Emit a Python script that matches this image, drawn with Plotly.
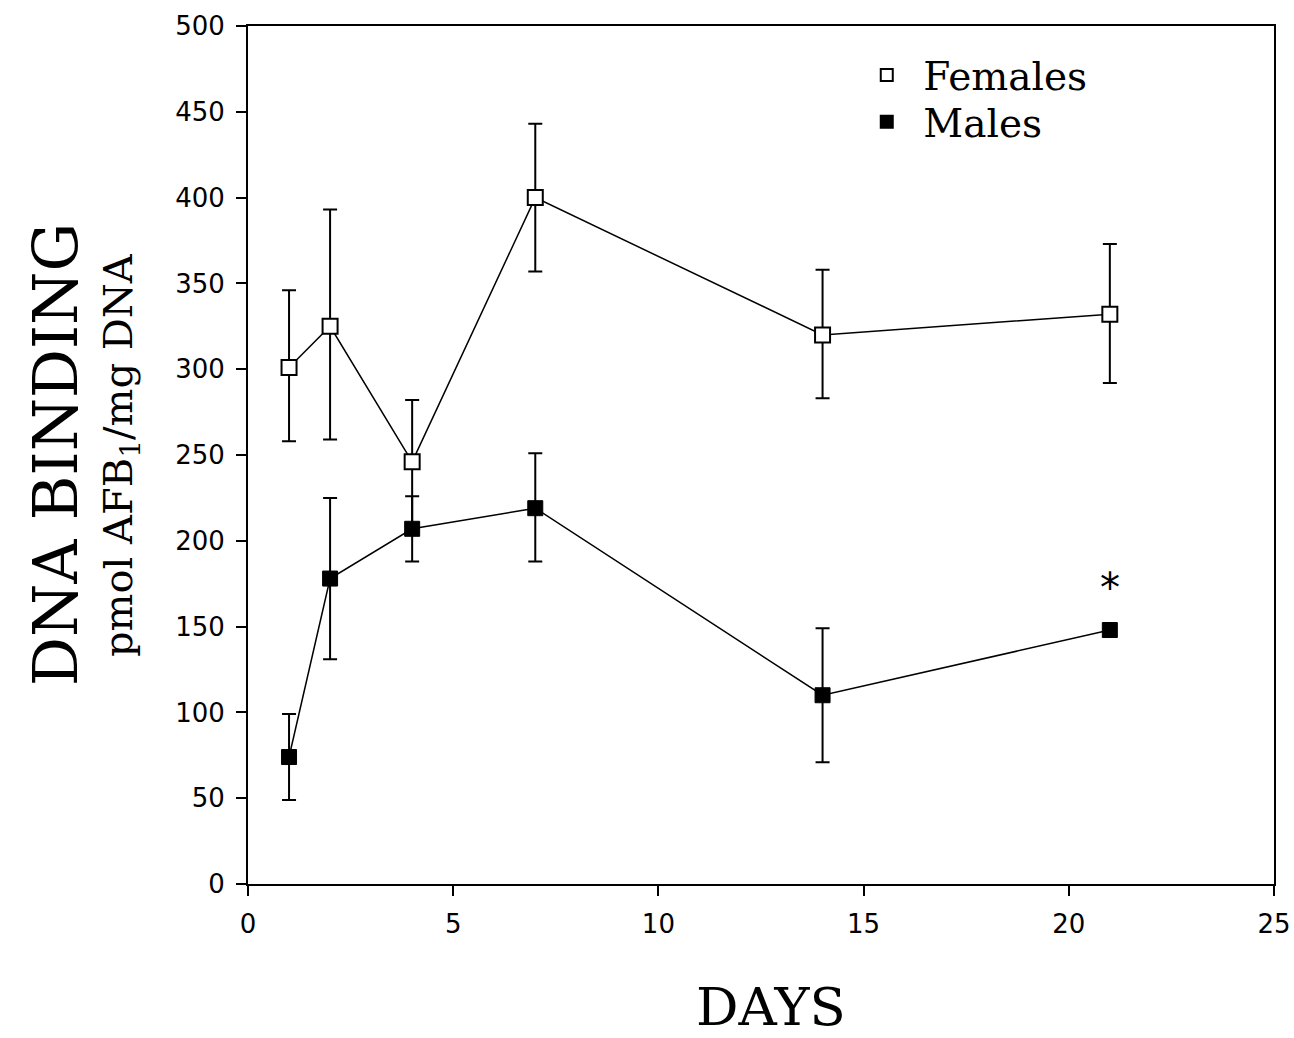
import plotly.graph_objects as go

days = [1, 2, 4, 7, 14, 21]
females = [301, 325, 246, 400, 320, 332]
females_up = [346, 393, 282, 443, 358, 373]
females_down = [258, 259, 210, 357, 283, 292]
males = [74, 178, 207, 219, 110, 148]
males_up = [99, 225, 226, 251, 149, 148]
males_down = [49, 131, 188, 188, 71, 148]
star_day = 21
star_y = 158

def plus(v, u):
    return [a - b for a, b in zip(u, v)]

def minus(v, d):
    return [b - a for a, b in zip(d, v)]

fig = go.Figure()
fig.add_trace(go.Scatter(
    x=days, y=females, mode="lines+markers", showlegend=False,
    line=dict(color="black", width=1.5),
    marker=dict(symbol="square", size=15, color="white", line=dict(color="black", width=2)),
    error_y=dict(type="data", symmetric=False, array=plus(females, females_up),
                 arrayminus=minus(females, females_down), color="black", thickness=2, width=7),
))
fig.add_trace(go.Scatter(
    x=days, y=males, mode="lines+markers", showlegend=False,
    line=dict(color="black", width=1.5),
    marker=dict(symbol="square", size=15, color="black", line=dict(color="black", width=1)),
    error_y=dict(type="data", symmetric=False, array=plus(males, males_up),
                 arrayminus=minus(males, males_down), color="black", thickness=2, width=7),
))
fig.add_trace(go.Scatter(
    x=[None], y=[None], mode="markers", name="Females", legend="legend",
    marker=dict(symbol="square", size=13, color="white", line=dict(color="black", width=2)),
))
fig.add_trace(go.Scatter(
    x=[None], y=[None], mode="markers", name="Males", legend="legend2",
    marker=dict(symbol="square", size=13, color="black", line=dict(color="black", width=1)),
))

fig.add_annotation(x=star_day, y=star_y, text="*", showarrow=False,
                   font=dict(family="DejaVu Sans", size=40, color="black"), yanchor="bottom")

fig.add_annotation(xref="paper", yref="paper", x=0, y=0.5, xshift=-193, text="DNA BINDING",
                   textangle=-90, showarrow=False, xanchor="center", yanchor="middle",
                   font=dict(family="DejaVu Serif", size=61, color="black"))
fig.add_annotation(xref="paper", yref="paper", x=0, y=0.5, xshift=-127,
                   text="pmol AFB<sub>1</sub>/mg DNA",
                   textangle=-90, showarrow=False, xanchor="center", yanchor="middle",
                   font=dict(family="DejaVu Serif", size=40, color="black"))
fig.add_annotation(xref="paper", yref="paper", x=0.5, y=0, xshift=10, yshift=-154,
                   text="DAYS", showarrow=False, xanchor="center", yanchor="bottom",
                   borderpad=0,
                   font=dict(family="DejaVu Serif", size=53, color="black"))

axis_common = dict(showline=True, linecolor="black", linewidth=2, mirror=True,
                   ticks="outside", ticklen=10, tickwidth=2, tickcolor="black",
                   showgrid=False, zeroline=False, automargin=False,
                   ticklabelstandoff=6,
                   tickfont=dict(family="DejaVu Sans", size=26, color="black"))

fig.update_xaxes(range=[0, 25], tickvals=[0, 5, 10, 15, 20, 25], **axis_common)
fig.update_yaxes(range=[0, 500], tickvals=[0, 50, 100, 150, 200, 250, 300, 350, 400, 450, 500],
                 **axis_common)

legend_common = dict(xanchor="left", yanchor="top",
                     font=dict(family="DejaVu Serif", size=39, color="black"),
                     bgcolor="rgba(0,0,0,0)", itemsizing="constant", itemwidth=63)

fig.update_layout(
    width=1294, height=1038,
    margin=dict(l=248, r=20, t=26, b=154),
    plot_bgcolor="white", paper_bgcolor="white",
    legend=dict(x=0.587, y=0.98, **legend_common),
    legend2=dict(x=0.587, y=0.9254, **legend_common),
)

fig.write_html("out.html", config={"displayModeBar": False},
               post_script="document.body.style.margin='0';document.body.style.overflow='hidden';")
